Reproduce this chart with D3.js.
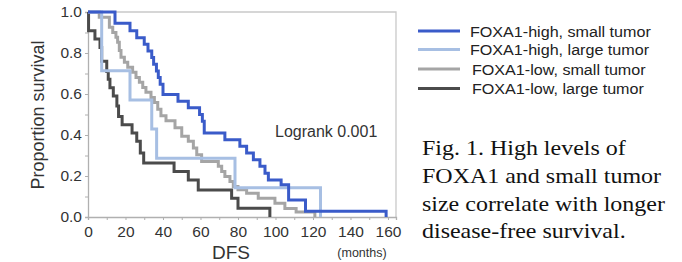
<!DOCTYPE html>
<html><head><meta charset="utf-8">
<script src="https://cdn.jsdelivr.net/npm/d3@7"></script>
<style>html,body{margin:0;padding:0;background:#fff;}svg{display:block;}</style>
</head><body>
<script>
// ---- data (months, survival proportion after each event) ----
const seriesNames = ["FOXA1-high, small tumor","FOXA1-high, large tumor","FOXA1-low, small tumor","FOXA1-low, large tumor"];
const highSmallT = [14.4,22.4,26,30,32,34,35,36.5,37.5,38.5,40,48,53.5,59.5,61,62,73,81,84.6,88.2,91.7,94.4,96.2,103,107,116,159];
const highSmallS = [0.945,0.908,0.875,0.843,0.81,0.778,0.745,0.712,0.68,0.647,0.598,0.565,0.533,0.5,0.467,0.41,0.377,0.345,0.312,0.279,0.247,0.214,0.181,0.157,0.083,0.028,0];
const highLargeT = [7.3,22.4,34,36.6,78.4,124];
const highLargeS = [0.714,0.571,0.429,0.286,0.143,0];
const lowSmallT = [6,11.4,13.2,14.9,15.8,16.7,17.6,19.4,21.2,23.8,25.6,27.4,29.2,30.9,33.6,35.4,37.2,38.9,41.6,46.4,50,53.5,56.2,58,60.6,69.5,71.3,73,75.7,77.5,80,84.6,90.8,99.7,105,111,121];
const lowSmallS = [0.975,0.926,0.9,0.877,0.853,0.812,0.779,0.755,0.73,0.706,0.681,0.657,0.632,0.608,0.583,0.559,0.526,0.494,0.469,0.435,0.394,0.369,0.337,0.304,0.271,0.247,0.222,0.198,0.173,0.149,0.133,0.116,0.092,0.067,0.042,0.025,0];
const lowLargeT = [0.3,3.7,6.4,7.3,10,10.8,11.7,13.5,15.4,16.3,18.2,23.5,26,27.9,29.7,45.9,53.5,58.8,76.6,80,97];
const lowLargeS = [0.908,0.868,0.827,0.76,0.71,0.672,0.631,0.59,0.541,0.49,0.45,0.41,0.369,0.312,0.263,0.222,0.181,0.132,0.092,0.043,0];
const xTicks = [0,20,40,60,80,100,120,140,160];
const yTicks = [0,0.2,0.4,0.6,0.8,1.0];
const captionLines = ["Fig. 1. High levels of","FOXA1 and small tumor","size correlate with longer","disease-free survival."];
const colors = ["#3a5bc9","#a7bfe3","#a5a5a5","#4b4b4b"];

const W = 682, H = 262;
const svg = d3.select("body").append("svg").attr("width", W).attr("height", H);

const x = d3.scaleLinear().domain([0, 164.27]).range([88, 396]);
const y = d3.scaleLinear().domain([0, 1]).range([217, 12]);

// frame (top & right)
svg.append("path").attr("d", `M${x(0)},${y(1)}H${x.range()[1]}V${y(0)}`)
  .attr("fill","none").attr("stroke","#c9c9c9").attr("stroke-width",1.3);

// axes
const xAxis = d3.axisBottom(x).tickValues(d3.range(0,161,10)).tickSize(3)
  .tickFormat(d => xTicks.includes(d) ? d : "");
const gx = svg.append("g").attr("transform", `translate(0,${y(0)})`).call(xAxis);
const yAxis = d3.axisLeft(y).tickValues(d3.range(0,1.01,0.1).map(v=>+v.toFixed(1))).tickSize(3)
  .tickFormat(d => yTicks.some(t=>Math.abs(t-d)<1e-6) ? d3.format(".1f")(d) : "");
const gy = svg.append("g").attr("transform", `translate(${x(0)},0)`).call(yAxis);
[gx, gy].forEach(g => {
  g.select(".domain").attr("stroke","#b0b0b0").attr("stroke-width",1.3);
  g.selectAll(".tick line").attr("stroke","#b0b0b0");
  g.selectAll("text").attr("fill","#333").attr("font-family","'Liberation Sans',Arial,sans-serif").attr("font-size",15.5);
});
gx.selectAll("text").attr("dy","0.95em").attr("y",5);
gy.selectAll("text").attr("x",-6);

// curves
const allT = [highSmallT, highLargeT, lowSmallT, lowLargeT];
const allS = [highSmallS, highLargeS, lowSmallS, lowLargeS];
const line = d3.line().x(d=>x(d[0])).y(d=>y(d[1])).curve(d3.curveStepAfter);
[3,2,1,0].forEach(i => {
  const pts = [[0,1]].concat(allT[i].map((t,j)=>[t, allS[i][j]]));
  svg.append("path").datum(pts).attr("d", line)
    .attr("fill","none").attr("stroke", colors[i]).attr("stroke-width", 3)
    .attr("stroke-linejoin","miter");
});

// axis titles
svg.append("text").attr("transform","translate(44,115) rotate(-90)")
  .attr("text-anchor","middle").attr("font-family","'Liberation Sans',Arial,sans-serif")
  .attr("font-size",18).attr("fill","#333").text("Proportion survival");
svg.append("text").attr("x",231).attr("y",259).attr("text-anchor","middle")
  .attr("font-family","'Liberation Sans',Arial,sans-serif").attr("font-size",19).attr("fill","#333").text("DFS");
svg.append("text").attr("x",362).attr("y",257).attr("text-anchor","middle")
  .attr("font-family","'Liberation Sans',Arial,sans-serif").attr("font-size",12.5).attr("fill","#333").text("(months)");
svg.append("text").attr("x",275).attr("y",137)
  .attr("font-family","'Liberation Sans',Arial,sans-serif").attr("font-size",16).attr("fill","#333").text("Logrank 0.001");

// legend
const legY = [31, 49.5, 69, 88.5];
const legTX = [470, 470, 472, 472];
seriesNames.forEach((n,i) => {
  svg.append("line").attr("x1",418).attr("x2",460).attr("y1",legY[i]).attr("y2",legY[i])
    .attr("stroke",colors[i]).attr("stroke-width",3);
  svg.append("text").attr("transform",`translate(${legTX[i]},${legY[i]+5.5}) scale(1.04,1)`)
    .attr("font-family","'Liberation Sans',Arial,sans-serif").attr("font-size",15.5).attr("fill","#222").text(n);
});

// caption
captionLines.forEach((t,i) => {
  svg.append("text").attr("transform",`translate(422,${155 + i*27.8}) scale(1.09,1)`)
    .attr("font-family","'Liberation Serif','Times New Roman',serif").attr("font-size",22).attr("fill","#111").text(t);
});
</script>
</body></html>
